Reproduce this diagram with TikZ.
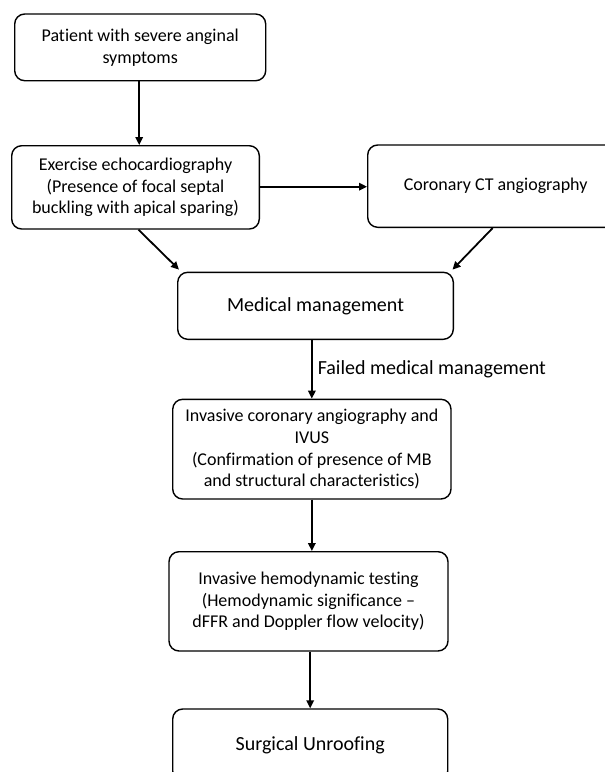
\documentclass[tikz,border=0pt]{standalone}
\usepackage{fontspec}
\setmainfont[Ligatures=NoCommon]{Carlito}
\usetikzlibrary{arrows.meta,calc}
\tikzset{
  box/.style={draw=black, line width=1.4pt, rounded corners=10pt, align=center,
    inner sep=0pt, font=\fontsize{18}{21.7}\selectfont},
  bigbox/.style={box, font=\fontsize{20}{24}\selectfont},
  conn/.style={line width=1.8pt, -{Triangle[length=8pt,width=7.5pt]}}
}
\begin{document}
\begin{tikzpicture}[x=1pt,y=-1pt]
\useasboundingbox (0,0) rectangle (605,772);
\node[box, minimum width=251pt, minimum height=66.7pt] (b1) at (140.2,47.35)
  {Patient with severe anginal\\symptoms};
\node[box, minimum width=247.6pt, minimum height=83.3pt] (b2) at (135.5,187.35)
  {Exercise echocardiography\\(Presence of focal septal\\buckling with apical sparing)};
\node[box, minimum width=256pt, minimum height=82.3pt] (b3) at (495.7,186.15)
  {Coronary CT angiography};
\node[bigbox, minimum width=275.6pt, minimum height=67pt] (b4) at (315.5,305.8)
  {Medical management};
\node[box, minimum width=278.3pt, minimum height=99.7pt] (b5) at (311.85,449.15)
  {Invasive coronary angiography and\\IVUS\\(Confirmation of presence of MB\\and structural characteristics)};
\node[box, minimum width=279pt, minimum height=99.3pt] (b6) at (308.5,601.35)
  {Invasive hemodynamic testing\\(Hemodynamic significance --\\dFFR and Doppler flow velocity)};
\node[bigbox, minimum width=275pt, minimum height=72pt] (b7) at (310.2,745)
  {Surgical Unroofing};
\draw[conn] ([xshift=-1pt]b1.south) -- ([xshift=-1pt]b1.south |- b2.north);
\draw[conn] (b2.east |- 0,186.7) -- (b3.west |- 0,186.7);
\draw[conn] ([xshift=3pt]b2.south) -- ([xshift=2pt,yshift=2pt]b4.north west);
\draw[conn] ([xshift=-3pt]b3.south) -- ([xshift=-1.5pt,yshift=2pt]b4.north east);
\draw[conn] (b5.north |- b4.south) -- node[right, inner sep=5pt, font=\fontsize{20}{24}\selectfont] (lbl) {Failed medical management} (b5.north);
\draw[conn] (b5.south) -- (b5.south |- b6.north);
\draw[conn] (b7.north |- b6.south) -- (b7.north);
\end{tikzpicture}
\end{document}
